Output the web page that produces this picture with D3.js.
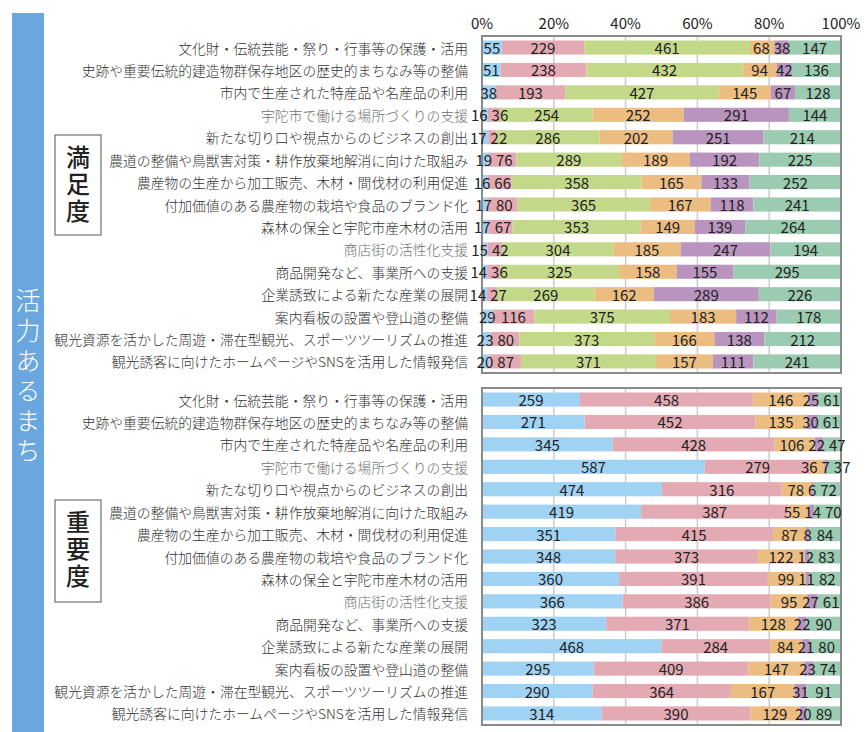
<!DOCTYPE html>
<html>
<head>
<meta charset="utf-8">
<script src="https://cdn.jsdelivr.net/npm/d3@7"></script>
<style>
  body { margin: 0; background: #fff; }
  svg { display: block; font-family: "Noto Sans CJK JP", "Noto Sans", sans-serif; }
</style>
</head>
<body>
<div id="chart"></div>
<script>
// items (same list in both panels)
const categories = [
  "文化財・伝統芸能・祭り・行事等の保護・活用",
  "史跡や重要伝統的建造物群保存地区の歴史的まちなみ等の整備",
  "市内で生産された特産品や名産品の利用",
  "宇陀市で働ける場所づくりの支援",
  "新たな切り口や視点からのビジネスの創出",
  "農道の整備や鳥獣害対策・耕作放棄地解消に向けた取組み",
  "農産物の生産から加工販売、木材・間伐材の利用促進",
  "付加価値のある農産物の栽培や食品のブランド化",
  "森林の保全と宇陀市産木材の活用",
  "商店街の活性化支援",
  "商品開発など、事業所への支援",
  "企業誘致による新たな産業の展開",
  "案内看板の設置や登山道の整備",
  "観光資源を活かした周遊・滞在型観光、スポーツツーリズムの推進",
  "観光誘客に向けたホームページやSNSを活用した情報発信"
];
// these two are printed lighter in the original
const dimmed = ["宇陀市で働ける場所づくりの支援", "商店街の活性化支援"];

// 満足度 (6 answers)
const sat1 = [55, 51, 38, 16, 17, 19, 16, 17, 17, 15, 14, 14, 29, 23, 20];
const sat2 = [229, 238, 193, 36, 22, 76, 66, 80, 67, 42, 36, 27, 116, 80, 87];
const sat3 = [461, 432, 427, 254, 286, 289, 358, 365, 353, 304, 325, 269, 375, 373, 371];
const sat4 = [68, 94, 145, 252, 202, 189, 165, 167, 149, 185, 158, 162, 183, 166, 157];
const sat5 = [38, 42, 67, 291, 251, 192, 133, 118, 139, 247, 155, 289, 112, 138, 111];
const sat6 = [147, 136, 128, 144, 214, 225, 252, 241, 264, 194, 295, 226, 178, 212, 241];

// 重要度 (5 answers)
const imp1 = [259, 271, 345, 587, 474, 419, 351, 348, 360, 366, 323, 468, 295, 290, 314];
const imp2 = [458, 452, 428, 279, 316, 387, 415, 373, 391, 386, 371, 284, 409, 364, 390];
const imp3 = [146, 135, 106, 36, 78, 55, 87, 122, 99, 95, 128, 84, 147, 167, 129];
const imp4 = [25, 30, 22, 7, 6, 14, 8, 12, 11, 27, 22, 21, 23, 31, 20];
const imp5 = [61, 61, 47, 37, 72, 70, 84, 83, 82, 61, 90, 80, 74, 91, 89];

const ticks = [0, 0.2, 0.4, 0.6, 0.8, 1];

const width = 866, height = 732;
const x0 = 482, x1 = 841;

const svg = d3.select("#chart").append("svg")
  .attr("width", width)
  .attr("height", height);

const x = d3.scaleLinear().domain([0, 1]).range([x0, x1]);

// side band
svg.append("rect")
  .attr("x", 12).attr("y", 13)
  .attr("width", 32).attr("height", height - 13)
  .attr("fill", "#6aa7de");

svg.append("text")
  .attr("x", 28)
  .attr("y", 288)
  .style("writing-mode", "vertical-rl")
  .style("letter-spacing", "5px")
  .attr("fill", "#fff")
  .attr("font-size", 25)
  .attr("font-weight", 300)
  .text("活力あるまち");

// percent labels on top
svg.selectAll(".tick-label")
  .data(ticks)
  .enter().append("text")
  .attr("class", "tick-label")
  .attr("x", (d) => x(d))
  .attr("y", 22)
  .attr("text-anchor", "middle")
  .attr("dominant-baseline", "central")
  .attr("font-size", 15)
  .attr("fill", "#222")
  .text((d) => Math.round(d * 100) + "%");

// push apart value labels that collide inside one bar
function spread(labels) {
  labels.forEach((l) => { l.w = l.node.getComputedTextLength(); });
  for (let it = 0; it < 30; it++) {
    let moved = false;
    for (let k = 0; k < labels.length - 1; k++) {
      let a = labels[k], b = labels[k + 1];
      let overlap = (a.cx + a.w / 2 + 4) - (b.cx - b.w / 2);
      if (overlap > 0.1) {
        a.cx -= overlap / 2;
        b.cx += overlap / 2;
        moved = true;
      }
    }
    if (!moved) break;
  }
  labels.forEach((l) => d3.select(l.node).attr("x", l.cx));
}

function panel(series, colors, top, bottom, title, boxY, boxH) {
  let keys = series.map((s, i) => "k" + i);
  let rows = categories.map((c, j) => {
    let r = { name: c };
    series.forEach((s, i) => { r["k" + i] = s[j]; });
    return r;
  });

  let stacked = d3.stack().keys(keys).offset(d3.stackOffsetExpand)(rows);

  let y = d3.scaleBand()
    .domain(categories)
    .range([top, bottom])
    .paddingInner(0.37)
    .paddingOuter(0.2);

  let g = svg.append("g");

  // grid
  g.selectAll(".grid")
    .data(ticks.slice(1, -1))
    .enter().append("line")
    .attr("x1", (d) => x(d)).attr("x2", (d) => x(d))
    .attr("y1", top).attr("y2", bottom)
    .attr("stroke", "#cccccc")
    .attr("stroke-width", 1.5);

  let layer = g.selectAll(".layer")
    .data(stacked)
    .enter().append("g")
    .attr("fill", (d, i) => colors[i]);

  layer.selectAll("rect")
    .data((d) => d)
    .enter().append("rect")
    .attr("x", (d) => x(d[0]))
    .attr("y", (d) => y(d.data.name))
    .attr("width", (d) => x(d[1]) - x(d[0]))
    .attr("height", y.bandwidth());

  // frame
  g.append("rect")
    .attr("x", x0).attr("y", top)
    .attr("width", x1 - x0).attr("height", bottom - top)
    .attr("fill", "none")
    .attr("stroke", "#8a8a8a")
    .attr("stroke-width", 2);

  // value labels, row by row
  categories.forEach((c, j) => {
    let labels = stacked.map((s) => {
      let d = s[j];
      let cx = (x(d[0]) + x(d[1])) / 2;
      let node = g.append("text")
        .attr("x", cx)
        .attr("y", y(c) + y.bandwidth() / 2)
        .attr("text-anchor", "middle")
        .attr("dominant-baseline", "central")
        .attr("font-size", 15)
        .attr("fill", "#222")
        .text(d.data[s.key])
        .node();
      return { node: node, cx: cx };
    });
    spread(labels);
  });

  // category labels
  g.selectAll(".cat")
    .data(categories)
    .enter().append("text")
    .attr("x", 468)
    .attr("y", (d) => y(d) + y.bandwidth() / 2)
    .attr("text-anchor", "end")
    .attr("dominant-baseline", "central")
    .attr("font-size", 13.8)
    .attr("font-weight", 300)
    .attr("fill", (d) => dimmed.includes(d) ? "#707070" : "#333")
    .text((d) => d);

  // title box
  svg.append("rect")
    .attr("x", 55).attr("y", boxY)
    .attr("width", 46).attr("height", boxH)
    .attr("fill", "#fff")
    .attr("stroke", "#555")
    .attr("stroke-width", 1);

  svg.append("text")
    .attr("x", 78)
    .attr("y", boxY + 10)
    .style("writing-mode", "vertical-rl")
    .style("letter-spacing", "3px")
    .attr("font-size", 24)
    .attr("font-weight", 500)
    .attr("fill", "#222")
    .text(title);
}

const satColors = ["#a0d2f4", "#e4aab4", "#c4d88a", "#ebbd80", "#b894be", "#9bcbb0"];
const impColors = ["#a0d2f4", "#e4aab4", "#ebbd80", "#b894be", "#9bcbb0"];

panel([sat1, sat2, sat3, sat4, sat5, sat6], satColors, 36, 373, "満足度", 135, 100);
panel([imp1, imp2, imp3, imp4, imp5], impColors, 388, 725, "重要度", 500, 102);
</script>
</body>
</html>
